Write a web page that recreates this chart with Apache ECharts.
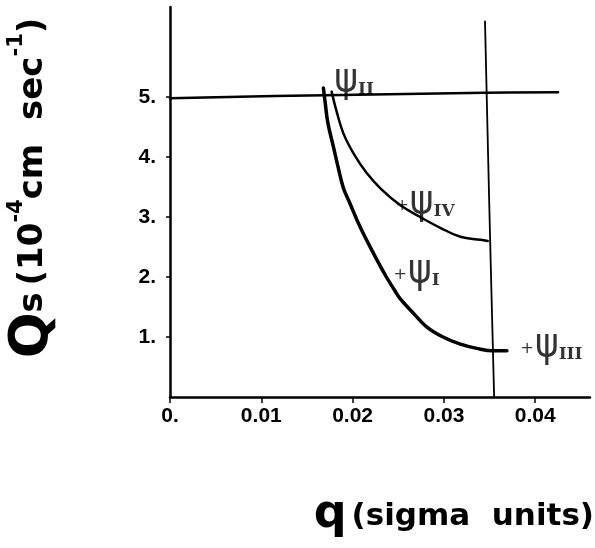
<!DOCTYPE html>
<html>
<head>
<meta charset="utf-8">
<script src="https://cdn.jsdelivr.net/npm/echarts@6/dist/echarts.min.js"></script>
<style>html,body{margin:0;padding:0;background:#fff}#c{width:595px;height:548px}</style>
</head>
<body>
<div id="c"></div>
<script>
// tick values
const xTicks = [0, 0.01, 0.02, 0.03, 0.04];
const yTicks = [1, 2, 3, 4, 5];
// curve through psi IV (upper)
const curveIV = [[0.0177,5.09],[0.0183,4.73],[0.0190,4.39],[0.0201,4.06],[0.0215,3.74],[0.0231,3.47],[0.0252,3.2],[0.0274,3.0],[0.0296,2.82],[0.0318,2.67],[0.0340,2.62],[0.0348,2.6]];
// curve through psi I (lower)
const curveI = [[0.0168,5.15],[0.0170,4.9],[0.0173,4.56],[0.0179,4.17],[0.0184,3.84],[0.0190,3.48],[0.0197,3.23],[0.0208,2.84],[0.0223,2.39],[0.0237,2.0],[0.0246,1.78],[0.0252,1.64],[0.0267,1.39],[0.0281,1.17],[0.0299,1.0],[0.0318,0.88],[0.0336,0.81],[0.0354,0.77],[0.0369,0.77]];
// horizontal limit line (~5.0) and vertical limit line (~0.035)
const lineTop = [[0,4.98],[0.017,5.03],[0.0345,5.07],[0.0425,5.08]];
const lineRight = [[0.0345,6.26],[0.0350,3.0],[0.0355,0]];
// psi point labels
const psiNames = ['II','IV','I','III'];
const psiX = [0.0187, 0.0254, 0.0252, 0.0391];
const psiY = [5.24, 3.2, 2.05, 0.82];
const psiPlus = [false, true, true, true];

const chart = echarts.init(document.getElementById('c'), null, {renderer:'canvas'});
const FONT = 'Liberation Sans';
const TFONT = 'DejaVu Sans';
const PSIFONT = '"Liberation Sans Narrow", "DejaVu Sans Condensed", "Liberation Sans"';
const lineSeries = (data, w) => ({
  type:'line', data, symbol:'none', smooth:0.4, silent:true,
  lineStyle:{color:'#000', width:w, cap:'round', join:'round'}
});
const labelData = psiNames.map((n,i)=>({value:[psiX[i], psiY[i]], name:n, plus:psiPlus[i]}));
chart.setOption({
  animation:false,
  backgroundColor:'#fff',
  title:{
    text:'{q|q} {t|(sigma  units)}',
    right:1, top:492, padding:0,
    textStyle:{rich:{
      q:{fontFamily:TFONT, fontWeight:'bold', fontSize:46, color:'#000'},
      t:{fontFamily:TFONT, fontWeight:'bold', fontSize:31, color:'#000', verticalAlign:'bottom', padding:[0,0,6,0]}
    }}
  },
  grid:{left:170, right:5, top:7, bottom:151, containLabel:false, outerBoundsMode:'none'},
  xAxis:{
    type:'value', min:0, max:0.046,
    axisLine:{lineStyle:{color:'#000', width:2.5}},
    axisTick:{show:true, customValues:xTicks, length:6, lineStyle:{color:'#000', width:1.5}},
    splitLine:{show:false},
    axisLabel:{customValues:xTicks, margin:9, color:'#000', fontFamily:FONT, fontWeight:'bold', fontSize:21,
      formatter:v => v === 0 ? '0.' : v.toFixed(2)}
  },
  yAxis:{
    type:'value', min:0, max:6.5,
    axisLine:{show:true, lineStyle:{color:'#000', width:2.5}},
    axisTick:{show:true, customValues:yTicks, length:4, lineStyle:{color:'#000', width:1.5}},
    splitLine:{show:false},
    axisLabel:{customValues:yTicks, margin:14, color:'#000', fontFamily:FONT, fontWeight:'bold', fontSize:21,
      formatter:v => v + '.'},
    name:'{Q|Q}{s|s}  {t|(10}{sup|-4}{t|cm  sec}{sup|-1}{t|)}',
    nameLocation:'middle', nameRotate:90, nameGap:110,
    nameTextStyle:{padding:[0,0,0,28], rich:{
      Q:{fontFamily:TFONT, fontWeight:'bold', fontSize:54, color:'#000'},
      s:{fontFamily:TFONT, fontWeight:'bold', fontSize:34, color:'#000'},
      t:{fontFamily:TFONT, fontWeight:'bold', fontSize:34, color:'#000'},
      sup:{fontFamily:TFONT, fontWeight:'bold', fontSize:21, color:'#000', verticalAlign:'top'}
    }}
  },
  series:[
    lineSeries(lineTop, 2.5),
    lineSeries(lineRight, 1.8),
    lineSeries(curveIV, 2.5),
    lineSeries(curveI, 3.5),
    {
      type:'scatter', data:labelData, symbolSize:1, itemStyle:{color:'rgba(0,0,0,0)'}, silent:true,
      label:{show:true, position:'right', distance:0, offset:[-7,-2],
        formatter:p => (p.data.plus ? '{pl|+}' : '') + '{psi|ψ}{sub|' + p.data.name + '}',
        rich:{
          pl:{fontFamily:'DejaVu Sans', fontSize:16, color:'#000', verticalAlign:'middle', padding:[6,1,0,0]},
          psi:{fontFamily:PSIFONT, fontSize:40, color:'#000'},
          sub:{fontFamily:'DejaVu Serif', fontWeight:'bold', fontSize:17, color:'#000', verticalAlign:'bottom', padding:[0,0,3,0]}
        }
      }
    }
  ]
});
</script>
</body>
</html>
